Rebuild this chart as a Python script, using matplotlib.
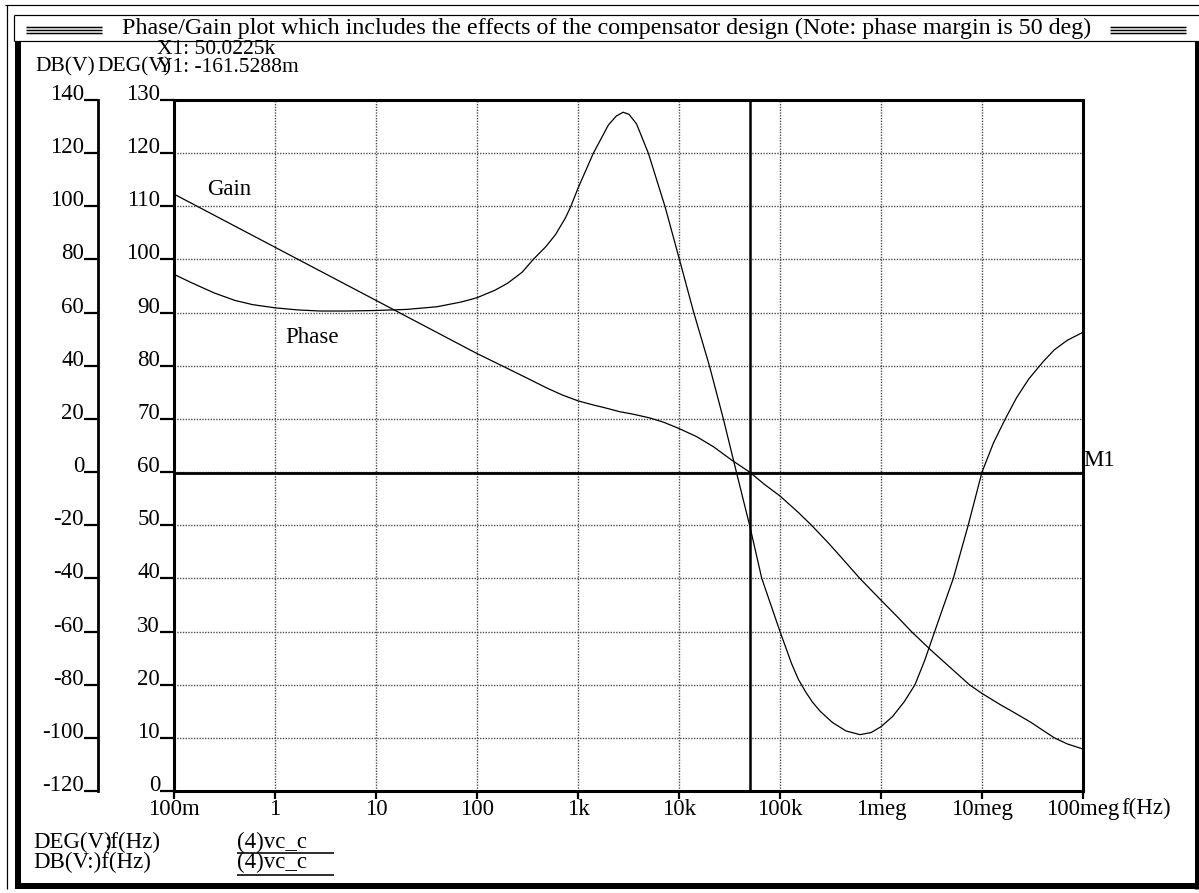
import matplotlib
matplotlib.use('Agg')
import matplotlib.pyplot as plt
from matplotlib.lines import Line2D
from matplotlib.ticker import NullLocator

# values
phase_freq = [0.1, 0.15, 0.25, 0.4, 0.6, 1, 1.7, 2.8, 5, 10, 20, 40, 70, 100,
              150, 200, 280, 360, 480, 600, 750, 850, 1e3, 1.42e3, 2e3, 2.4e3,
              2.8e3, 3.2e3, 3.8e3, 4.97e3, 7.26e3, 1.01e4, 1.4e4, 2e4, 2.75e4,
              3.7e4, 5e4, 6.6e4, 1e5, 1.15e5, 1.3e5, 1.52e5, 1.8e5, 2.1e5, 2.5e5,
              3.3e5, 4.5e5, 6.2e5, 8e5, 1e6, 1.3e6, 1.7e6, 2.17e6, 2.7e6, 3.4e6,
              4.2e6, 5.2e6, 7.3e6, 1e7, 1.3e7, 1.7e7, 2.2e7, 2.9e7, 4e7, 5.2e7,
              7e7, 1e8]
phase_deg = [97.2, 95.6, 93.7, 92.3, 91.5, 90.9, 90.5, 90.3, 90.3, 90.4, 90.6,
             91.1, 92.0, 92.8, 94.2, 95.5, 97.6, 100, 102.4, 104.7, 107.8, 110,
             113.4, 120, 125.3, 127.0, 127.7, 127.3, 125.5, 120, 110, 100, 90,
             80, 70, 60, 50, 40, 30, 26.8, 24, 21, 18.6, 16.7, 15, 12.9, 11.3,
             10.6, 11.0, 12.1, 14, 16.8, 20, 24.5, 30, 35, 40, 50, 60, 65.5, 70,
             74, 77.5, 80.7, 83, 84.8, 86.3]

gain_freq = [0.1, 1, 10, 100, 200, 300, 500, 700, 1e3, 1.4e3, 1.8e3, 2.6e3,
             3.5e3, 5.1e3, 7e3, 1e4, 1.5e4, 2.2e4, 3.3e4, 5e4, 7e4, 1e5, 1.5e5,
             2.05e5, 3e5, 4e5, 6.17e5, 1e6, 1.5e6, 2e6, 3.1e6, 5e6, 7.5e6, 1e7,
             1.5e7, 2e7, 3e7, 5.2e7, 7e7, 1e8]
gain_db = [104.6, 84.6, 64.6, 44.6, 39.0, 35.7, 31.5, 29.0, 26.8, 25.3, 24.3,
           22.7, 21.8, 20.4, 18.8, 16.4, 13.3, 9.5, 4.6, 0, -4.6, -9, -15, -20,
           -26.6, -31.9, -40, -48.2, -55, -60, -66.9, -74, -80, -83.3, -87.4,
           -90.1, -94, -100, -102.3, -104.2]

xtick_vals = [0.1, 1, 10, 100, 1e3, 1e4, 1e5, 1e6, 1e7, 1e8]
xtick_labels = ['100m', '1', '10', '100', '1k', '10k', '100k', '1meg', '10meg', '100meg']
deg_ticks = list(range(0, 131, 10))
db_ticks = list(range(-120, 141, 20))

cursor_x = 50.0225e3
cursor_y = -161.5288e-3

title = 'Phase/Gain plot which includes the effects of the compensator design (Note: phase margin is 50 deg)'

plt.rcParams['font.family'] = ['Liberation Serif', 'DejaVu Serif']
plt.rcParams['axes.unicode_minus'] = False
FS = 16.5
W, H = 1199, 893


def fx(x):
    return x / W


def fy(y):
    return 1 - y / H


def pxline(fig, xs, ys, lw):
    fig.add_artist(Line2D([fx(v) for v in xs], [fy(v) for v in ys],
                          transform=fig.transFigure, color='black',
                          linewidth=lw / 1.389, solid_capstyle='butt'))


fig = plt.figure(figsize=(W / 100, H / 100), dpi=100)

# window frame
pxline(fig, [5, 1199], [5, 5], 1.2)
pxline(fig, [7, 7], [5, 889], 1.2)
pxline(fig, [14, 1199], [15, 15], 1.2)
pxline(fig, [14, 1199], [41, 41], 1.2)
pxline(fig, [14, 14], [15, 41], 1.2)
pxline(fig, [18, 18], [41, 889], 6)
pxline(fig, [15, 1199], [886, 886], 6)
pxline(fig, [1197, 1197], [41, 889], 5)
for yy in [26.5, 29.5, 32.5]:
    pxline(fig, [26, 102], [yy, yy], 1.5)
    pxline(fig, [1110, 1186], [yy, yy], 1.5)
fig.text(fx(607), fy(28), title, ha='center', va='center', fontsize=17.3)

ax = fig.add_axes([fx(174), fy(791), (1083 - 174) / W, (791 - 100) / H])
ax.set_xscale('log')
ax.set_xlim(xtick_vals[0], xtick_vals[-1])
ax.set_ylim(deg_ticks[0], deg_ticks[-1])
ax.set_xticks(xtick_vals)
ax.set_xticklabels(xtick_labels)
ax.xaxis.set_minor_locator(NullLocator())
ax.set_yticks(deg_ticks)
ax.grid(True, color='0.3', linestyle=(0, (1, 1)), linewidth=1.0)
ax.set_axisbelow(True)
for s in ax.spines.values():
    s.set_linewidth(2.2)
ax.tick_params(axis='y', direction='out', length=10, width=1.6, pad=0, labelsize=FS)
ax.tick_params(axis='x', direction='out', length=6, width=1.6, pad=0, labelsize=FS)
for lab in ax.get_yticklabels():
    lab.set_va('baseline')

ax.plot(phase_freq, phase_deg, color='black', linewidth=0.9)

ax2 = ax.twinx()
ax2.set_ylim(db_ticks[0], db_ticks[-1])
ax2.set_yticks(db_ticks)
ax2.yaxis.set_ticks_position('left')
ax2.yaxis.set_label_position('left')
ax2.spines['left'].set_position(('outward', 76 / 1.389))
ax2.spines['left'].set_visible(True)
ax2.spines['left'].set_linewidth(2.0)
for k in ['right', 'top', 'bottom']:
    ax2.spines[k].set_visible(False)
ax2.tick_params(axis='y', direction='out', length=10, width=1.6, pad=0, labelsize=FS)
for lab in ax2.get_yticklabels():
    lab.set_va('baseline')

ax2.plot(gain_freq, gain_db, color='black', linewidth=0.9)

# cursor
ax2.axvline(cursor_x, color='black', linewidth=1.8)
ax2.axhline(cursor_y, color='black', linewidth=2.0)
ax2.annotate('M1', xy=(1, cursor_y), xycoords=('axes fraction', 'data'),
             xytext=(0, 5), textcoords='offset points', ha='left', va='baseline',
             fontsize=FS)

ax.text(0.036, 0.871, 'Gain', transform=ax.transAxes, ha='left', va='center', fontsize=FS)
ax.text(0.122, 0.657, 'Phase', transform=ax.transAxes, ha='left', va='center', fontsize=FS)
ax.text(1.042, -0.0105, 'f(Hz)', transform=ax.transAxes, ha='left', va='top', fontsize=FS)

# header labels
HFS = 15.5
fig.text(fx(157), fy(49), 'X1: 50.0225k', ha='left', va='center', fontsize=HFS)
fig.text(fx(35), fy(67), 'DB(V)', ha='left', va='center', fontsize=HFS)
fig.text(fx(97), fy(67), 'DEG(V)', ha='left', va='center', fontsize=HFS)
fig.text(fx(157), fy(67), 'Y1: -161.5288m', ha='left', va='center', fontsize=HFS)

# trace legend
fig.text(fx(33), fy(842), 'DEG(V)', ha='left', va='center', fontsize=FS)
fig.text(fx(104), fy(842), ':f(Hz)', ha='left', va='center', fontsize=FS)
fig.text(fx(33), fy(862), 'DB(V:)f(Hz)', ha='left', va='center', fontsize=FS)
fig.text(fx(237), fy(842), '(4)vc_c', ha='left', va='center', fontsize=FS)
fig.text(fx(237), fy(862), '(4)vc_c', ha='left', va='center', fontsize=FS)
pxline(fig, [237, 334], [853, 853], 1.6)
pxline(fig, [237, 334], [875, 875], 1.6)

fig.savefig('out.png', dpi=100)
